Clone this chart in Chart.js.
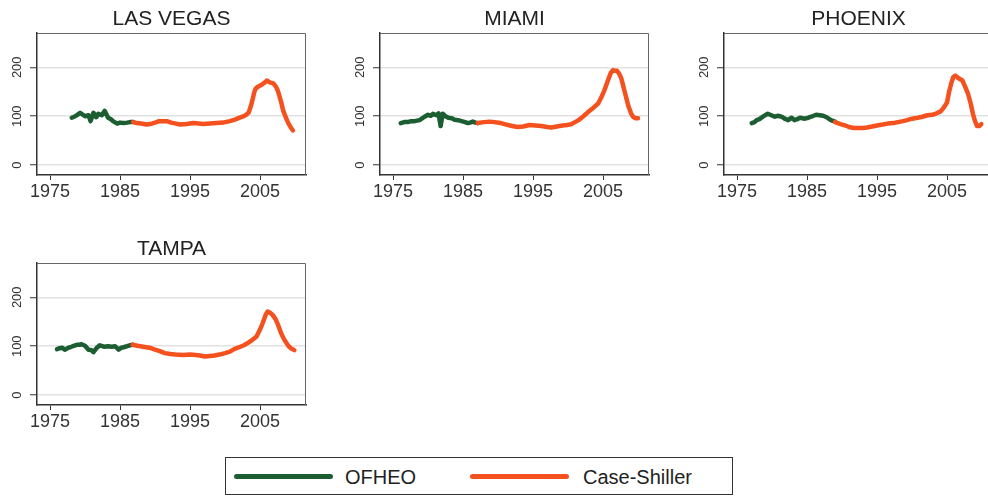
<!DOCTYPE html>
<html><head><meta charset="utf-8">
<script src="https://cdn.jsdelivr.net/npm/chart.js@4.4.1/dist/chart.umd.min.js"></script>
<style>
html,body{margin:0;padding:0;background:#fff;width:988px;height:497px;overflow:hidden;position:relative;font-family:"Liberation Sans",Arial,sans-serif;}
canvas.panel{position:absolute;}
#legend{position:absolute;left:225px;top:457px;width:508px;height:38px;border:1px solid #333;box-sizing:border-box;}
#legend .sw{position:absolute;height:5px;border-radius:3px;top:15.5px;}
#legend .lab{position:absolute;top:9px;font-size:20px;line-height:20px;color:#222;white-space:nowrap;}
</style>
</head><body>
<canvas id="c0" class="panel"></canvas>
<canvas id="c1" class="panel"></canvas>
<canvas id="c2" class="panel"></canvas>
<canvas id="c3" class="panel"></canvas>
<div id="legend">
  <div class="sw" style="left:8px;width:99px;background:#1c5e31"></div>
  <div class="lab" style="left:119px">OFHEO</div>
  <div class="sw" style="left:244px;width:99px;background:#f4511f"></div>
  <div class="lab" style="left:357px">Case-Shiller</div>
</div>
<script>
// ---- data ----
const cityTitles = ["LAS VEGAS", "MIAMI", "PHOENIX", "TAMPA"];
const seriesNames = ["OFHEO", "Case-Shiller"];
const xTickYears = [1975, 1985, 1995, 2005];
const yTickValues = [0, 100, 200];

const lvOfheoYears = [1978.1,1978.6,1979.0,1979.3,1979.7,1980.0,1980.5,1980.8,1981.2,1981.6,1981.9,1982.4,1982.8,1983.3,1983.7,1984.0,1984.6,1985.0,1985.5,1986.0,1986.4,1986.9];
const lvOfheoValues = [97,100,104,107,103,100,102,90,107,98,105,102,111,97,94,90,85,87,86,87,88,88];
const lvCsYears = [1986.9,1987.4,1988.0,1988.8,1989.3,1990.0,1990.6,1991.2,1991.7,1992.3,1993.0,1993.6,1994.5,1995.5,1996.2,1996.9,1997.8,1998.8,1999.7,2000.7,2001.4,2002.1,2002.7,2003.1,2003.4,2003.8,2004.2,2004.4,2004.8,2005.3,2005.7,2006.0,2006.4,2006.9,2007.3,2007.6,2008.0,2008.3,2008.7,2009.0,2009.4,2009.7];
const lvCsValues = [88,86,85,83,84,87,90,90,90,87,85,83,84,86,85,84,85,86,87,90,93,97,100,104,108,126,150,157,161,165,169,173,169,167,160,150,130,112,97,87,77,71];

const miOfheoYears = [1976.1,1976.6,1977.1,1977.6,1978.1,1978.8,1979.5,1980.0,1980.4,1980.7,1981.2,1981.5,1981.8,1982.1,1982.5,1982.9,1983.4,1983.8,1984.3,1984.8,1985.3,1985.7,1986.0,1986.4,1986.8,1987.1];
const miOfheoValues = [86,88,88,90,90,92,99,103,101,105,102,106,80,105,100,97,96,93,92,90,88,86,87,89,87,86];
const miCsYears = [1987.1,1988.0,1988.8,1989.5,1990.4,1991.2,1992.0,1992.8,1993.6,1994.5,1995.3,1996.2,1997.0,1997.6,1998.4,1999.2,1999.9,2000.5,2001.0,2001.5,2002.2,2002.9,2003.6,2004.3,2004.8,2005.2,2005.7,2006.1,2006.4,2006.7,2007.0,2007.3,2007.6,2008.1,2008.6,2009.0,2009.3,2009.6,2010.0];
const miCsValues = [86,88,89,88,86,83,80,78,79,82,81,80,78,77,79,81,82,84,88,92,100,109,117,126,140,153,173,188,194,193,193,187,178,150,122,106,99,96,96];

const phOfheoYears = [1977.1,1977.5,1977.8,1978.2,1978.5,1979.0,1979.4,1979.9,1980.4,1980.8,1981.1,1981.5,1981.8,1982.3,1982.8,1983.2,1983.6,1984.0,1984.7,1985.2,1985.6,1986.3,1986.8,1987.3,1987.8,1988.2,1988.6,1989.0];
const phOfheoValues = [86,88,92,94,97,102,105,102,99,101,100,98,95,92,97,92,94,97,95,97,99,103,102,101,98,94,91,89];
const phCsYears = [1989.0,1989.8,1990.5,1991.0,1991.7,1992.4,1993.0,1993.6,1994.3,1995.0,1995.8,1996.5,1997.3,1998.0,1998.7,1999.3,2000.0,2000.8,2001.5,2002.2,2002.9,2003.5,2004.1,2004.5,2005.0,2005.3,2005.6,2005.9,2006.2,2006.6,2007.2,2007.6,2008.0,2008.4,2008.7,2009.0,2009.3,2009.6,2009.9];
const phCsValues = [88,84,81,78,76,76,76,77,79,81,83,85,86,88,90,92,95,97,99,102,103,106,110,117,128,150,167,180,183,178,173,160,146,125,105,90,80,80,84];

const taOfheoYears = [1976.0,1976.4,1976.7,1977.1,1977.5,1977.9,1978.4,1978.8,1979.2,1979.5,1980.0,1980.5,1980.9,1981.2,1981.7,1982.1,1982.7,1983.3,1983.8,1984.3,1984.8,1985.2,1985.5,1986.0,1986.4,1986.8];
const taOfheoValues = [94,96,97,93,96,98,101,103,103,104,101,93,92,88,97,102,99,100,99,100,93,97,98,100,102,103];
const taCsYears = [1986.8,1987.5,1988.3,1989.2,1990.0,1990.7,1991.4,1992.2,1992.9,1994.0,1995.0,1995.8,1996.4,1997.1,1997.8,1998.5,1999.2,2000.0,2000.7,2001.3,2002.0,2002.7,2003.4,2004.0,2004.5,2005.0,2005.4,2005.8,2006.1,2006.4,2006.8,2007.2,2007.6,2008.0,2008.4,2008.8,2009.1,2009.4,2009.9];
const taCsValues = [103,101,99,97,93,90,86,84,83,82,83,82,81,79,80,81,83,86,89,94,98,102,108,114,120,134,148,164,171,169,164,156,143,127,115,106,100,96,92];

const cityData = [
  [lvOfheoYears, lvOfheoValues, lvCsYears, lvCsValues],
  [miOfheoYears, miOfheoValues, miCsYears, miCsValues],
  [phOfheoYears, phOfheoValues, phCsYears, phCsValues],
  [taOfheoYears, taOfheoValues, taCsYears, taCsValues]
];

// ---- layout / style ----
const panelPos = [[37,33],[380,33],[724,33],[37,263]];
const GREEN = '#1c5e31', ORANGE = '#f4511f';
const FONT = "'Liberation Sans', Arial, Helvetica, sans-serif";
Chart.defaults.font.family = FONT;

const frame = {
  id: 'frame',
  afterDraw(chart) {
    const a = chart.chartArea, ctx = chart.ctx;
    ctx.save();
    ctx.strokeStyle = '#666';
    ctx.lineWidth = 1;
    ctx.beginPath();
    ctx.moveTo(a.left, a.top + 0.5);
    ctx.lineTo(a.right - 0.5, a.top + 0.5);
    ctx.lineTo(a.right - 0.5, a.bottom);
    ctx.stroke();
    ctx.restore();
  }
};

const toPts = (xs, ys) => xs.map((x, i) => ({x: x, y: ys[i]}));

cityTitles.forEach((title, i) => {
  const cv = document.getElementById('c' + i);
  const [pl, pt] = panelPos[i];
  cv.width = 310; cv.height = 215;
  cv.style.left = (pl - 37) + 'px';
  cv.style.top = (pt - 33) + 'px';
  const d = cityData[i];
  new Chart(cv, {
    type: 'line',
    data: {
      datasets: [
        {label: seriesNames[0], data: toPts(d[0], d[1]), borderColor: GREEN, backgroundColor: GREEN,
         borderWidth: 4.5, pointRadius: 0, tension: 0, borderCapStyle: 'round', borderJoinStyle: 'round', order: 2},
        {label: seriesNames[1], data: toPts(d[2], d[3]), borderColor: ORANGE, backgroundColor: ORANGE,
         borderWidth: 4.5, pointRadius: 0, tension: 0, borderCapStyle: 'round', borderJoinStyle: 'round', order: 1}
      ]
    },
    options: {
      responsive: false, animation: false, devicePixelRatio: 1,
      layout: {padding: {left: 0, right: 4, top: 0, bottom: 0}},
      plugins: {
        legend: {display: false}, tooltip: {enabled: false},
        title: {display: true, text: title, fullSize: false, color: '#222',
                font: {size: 21, weight: 'normal', family: FONT, lineHeight: 1.2},
                padding: {top: 7, bottom: 0.8}}
      },
      scales: {
        x: {
          type: 'linear', position: 'bottom', min: 1973.14, max: 2011.57,
          afterBuildTicks: s => { s.ticks = xTickYears.map(v => ({value: v})); },
          afterFit: s => { s.height = 40; },
          ticks: {font: {size: 18}, color: '#333', padding: 1, maxRotation: 0, autoSkip: false,
                  callback: v => String(v)},
          grid: {display: true, drawOnChartArea: false, drawTicks: true, tickLength: 5, tickColor: '#333', tickWidth: 1},
          border: {display: true, color: '#333', width: 1.5}
        },
        y: {
          type: 'linear', position: 'left', min: -20, max: 270,
          afterBuildTicks: s => { s.ticks = yTickValues.map(v => ({value: v})); },
          afterFit: s => { s.width = 37; },
          ticks: {font: {size: 13}, color: '#333', minRotation: 90, maxRotation: 90, crossAlign: 'center', padding: 1.5},
          grid: {color: '#e2e2e2', lineWidth: 1.5, drawTicks: true, tickLength: 7, tickColor: '#333', tickWidth: 1},
          border: {display: true, color: '#333', width: 1.5}
        }
      }
    },
    plugins: [frame]
  });
});
</script>
</body></html>
